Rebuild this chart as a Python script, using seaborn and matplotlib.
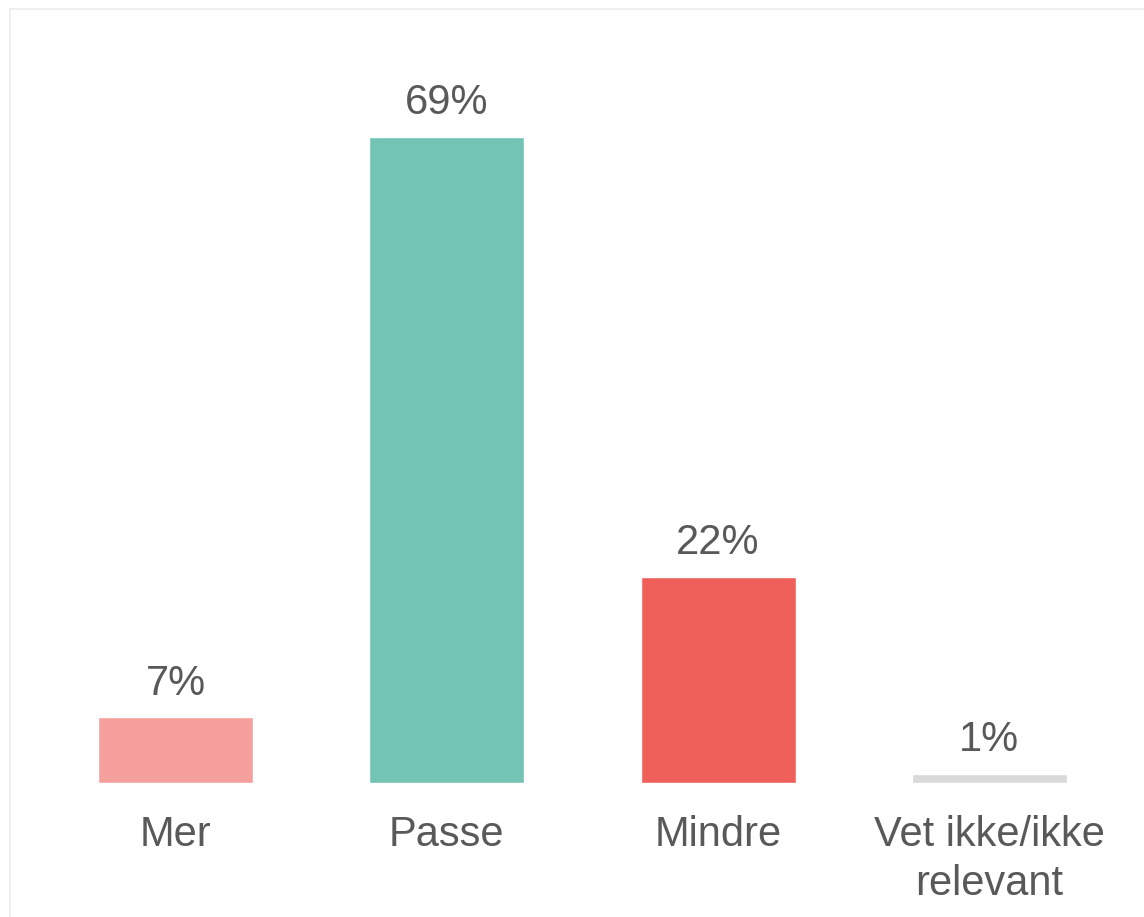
import matplotlib.pyplot as plt
import matplotlib.patches as mpatches
import pandas as pd
import seaborn as sns

categories = ['Mer', 'Passe', 'Mindre', 'Vet ikke/ikke\nrelevant']
values = [7, 69, 22, 1]
colors = ['#F6A09D', '#73C4B5', '#F0605A', '#D9D9D9']

df = pd.DataFrame({'cat': categories, 'val': values})

sns.set_style('white')
plt.rcParams['font.family'] = ['Liberation Sans', 'DejaVu Sans']

fig = plt.figure(figsize=(11.44, 9.17), dpi=100)
ax = fig.add_axes([40 / 1144, 134 / 917, 1085 / 1144, 702 / 917])

sns.barplot(data=df, x='cat', y='val', hue='cat', palette=colors,
            legend=False, width=0.572, saturation=1, ax=ax)

for i, v in enumerate(values):
    ax.annotate(f'{v}%', (i, v), xytext=(0, 10), textcoords='offset points',
                ha='center', va='bottom', fontsize=30, color='#595959')

ax.set_xlim(-0.5, 3.5)
ax.set_ylim(0, 75)
ax.set_xlabel('')
ax.set_ylabel('')
ax.set_yticks([])
ax.tick_params(axis='x', length=0, pad=23, labelsize=30, labelcolor='#595959')
for lbl in ax.get_xticklabels():
    lbl.set_linespacing(1.3)
for s in ax.spines.values():
    s.set_visible(False)

# light frame around the chart area
fig.patches.append(mpatches.Rectangle((10 / 1144, -0.2), 1.2, 1.2 - 9 / 917,
                                      transform=fig.transFigure, fill=False,
                                      edgecolor='#EEEEEE', linewidth=1.5))

fig.savefig('out.png', dpi=100)
